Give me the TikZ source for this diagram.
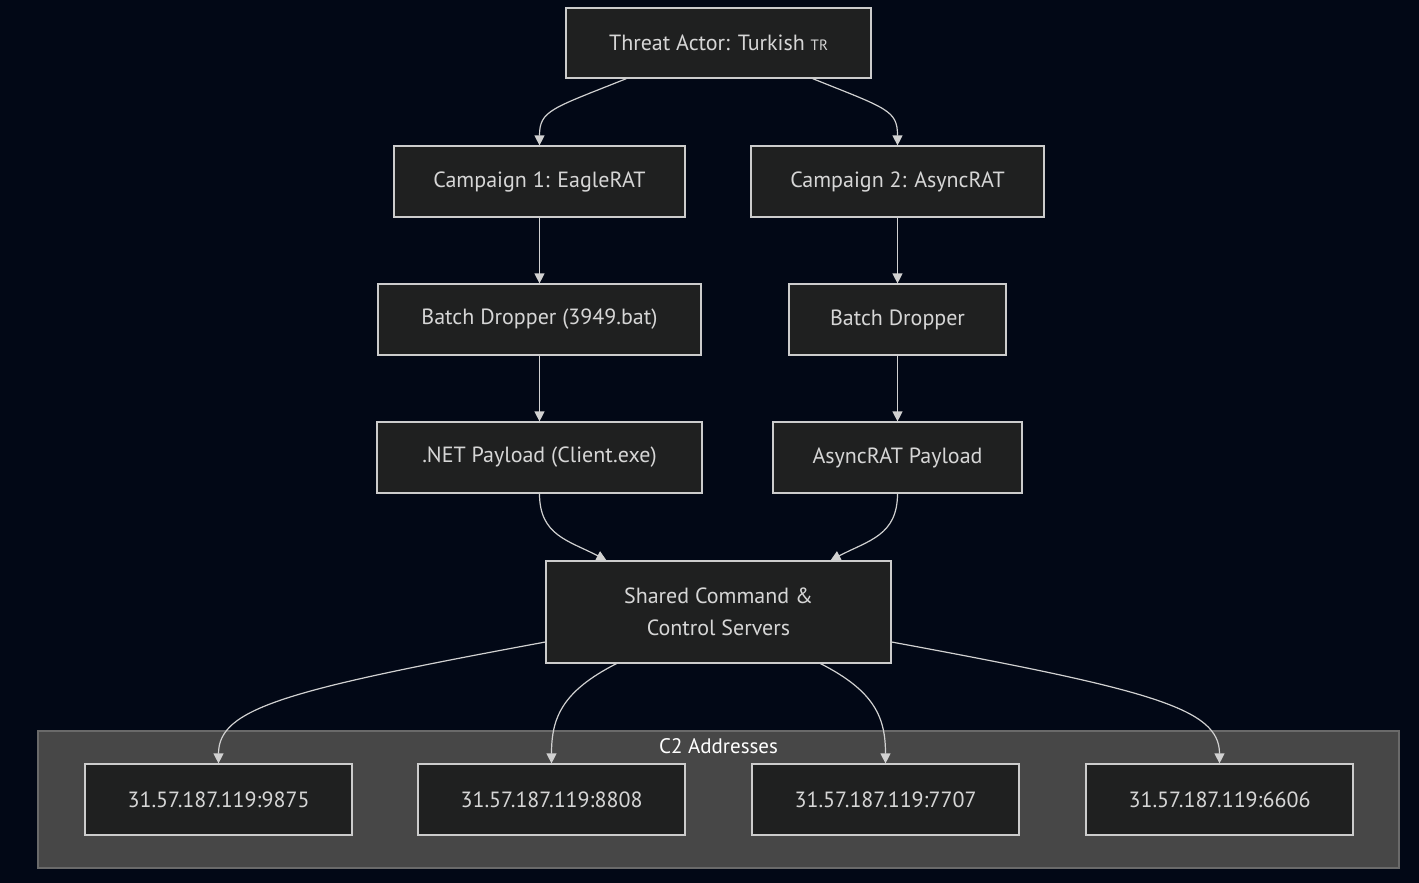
\documentclass[tikz,border=0pt]{standalone}
\usepackage{fontspec}
\setmainfont{PT Sans}
\usetikzlibrary{arrows.meta}
\definecolor{bgcol}{HTML}{020816}
\definecolor{boxfill}{HTML}{1F2020}
\definecolor{boxline}{HTML}{CCCCCC}
\definecolor{txtcol}{HTML}{D6D6D6}
\definecolor{clusterfill}{HTML}{474747}
\definecolor{clusterline}{HTML}{6A6A6A}
\tikzset{
  box/.style={draw=boxline, line width=1.2pt, fill=boxfill, text=txtcol,
    inner sep=0pt, font=\fontsize{22}{32}\selectfont, align=center},
  link/.style={draw=boxline!90!white, line width=1.2pt,
    -{Triangle[length=10pt,width=10pt]}},
}
\begin{document}
\begin{tikzpicture}[x=1pt,y=1pt]
  \useasboundingbox[fill=bgcol] (0,0) rectangle (1419,-883);
  \draw[clusterline, fill=clusterfill, line width=1.2pt] (38,-731) rectangle (1399,-868);
  \node[text=white, font=\fontsize{21}{24}\selectfont] (c2label) at (718.5,-746) {C2 Addresses};

  \node[box, minimum width=305pt, minimum height=70pt] (actor) at (718.5,-43) {Threat Actor: Turkish {\fontsize{15}{17}\selectfont TR}};
  \node[box, minimum width=291pt, minimum height=71pt] (camp1) at (539.5,-181.5) {Campaign 1: EagleRAT};
  \node[box, minimum width=293pt, minimum height=71pt] (camp2) at (897.5,-181.5) {Campaign 2: AsyncRAT};
  \node[box, minimum width=323pt, minimum height=71pt] (drop1) at (539.5,-319.5) {Batch Dropper (3949.bat)};
  \node[box, minimum width=217pt, minimum height=71pt] (drop2) at (897.5,-319.5) {Batch Dropper};
  \node[box, minimum width=325pt, minimum height=71pt] (pay1) at (539.5,-457.5) {.NET Payload (Client.exe)};
  \node[box, minimum width=249pt, minimum height=71pt] (pay2) at (897.5,-457.5) {AsyncRAT Payload};
  \node[box, minimum width=345pt, minimum height=102pt] (shared) at (718.5,-612) {Shared Command \&\\ Control Servers};

  \node[box, minimum width=267pt, minimum height=71pt] (ip1) at (218.5,-799.5) {31.57.187.119:9875};
  \node[box, minimum width=267pt, minimum height=71pt] (ip2) at (551.5,-799.5) {31.57.187.119:8808};
  \node[box, minimum width=267pt, minimum height=71pt] (ip3) at (885.5,-799.5) {31.57.187.119:7707};
  \node[box, minimum width=267pt, minimum height=71pt] (ip4) at (1219.5,-799.5) {31.57.187.119:6606};

  \draw[link] ([xshift=-92pt]actor.south) .. controls +(-75,-30) and +(0,35) .. (camp1.north);
  \draw[link] ([xshift=94pt]actor.south) .. controls +(75,-30) and +(0,35) .. (camp2.north);
  \draw[link] (camp1) -- (drop1);
  \draw[link] (camp2) -- (drop2);
  \draw[link] (drop1) -- (pay1);
  \draw[link] (drop2) -- (pay2);
  \draw[link] (pay1.south) .. controls +(0,-42) and +(-38,20) .. ([xshift=-112pt]shared.north);
  \draw[link] (pay2.south) .. controls +(0,-42) and +(38,20) .. ([xshift=112pt]shared.north);
  \draw[link] ([yshift=-30pt]shared.west) .. controls +(-260,-48) and +(0,55) .. (ip1.north);
  \draw[link] ([xshift=-102pt]shared.south) .. controls +(-55,-28) and +(0,45) .. (ip2.north);
  \draw[link] ([xshift=102pt]shared.south) .. controls +(55,-28) and +(0,45) .. (ip3.north);
  \draw[link] ([yshift=-30pt]shared.east) .. controls +(260,-48) and +(0,55) .. (ip4.north);
\end{tikzpicture}
\end{document}
